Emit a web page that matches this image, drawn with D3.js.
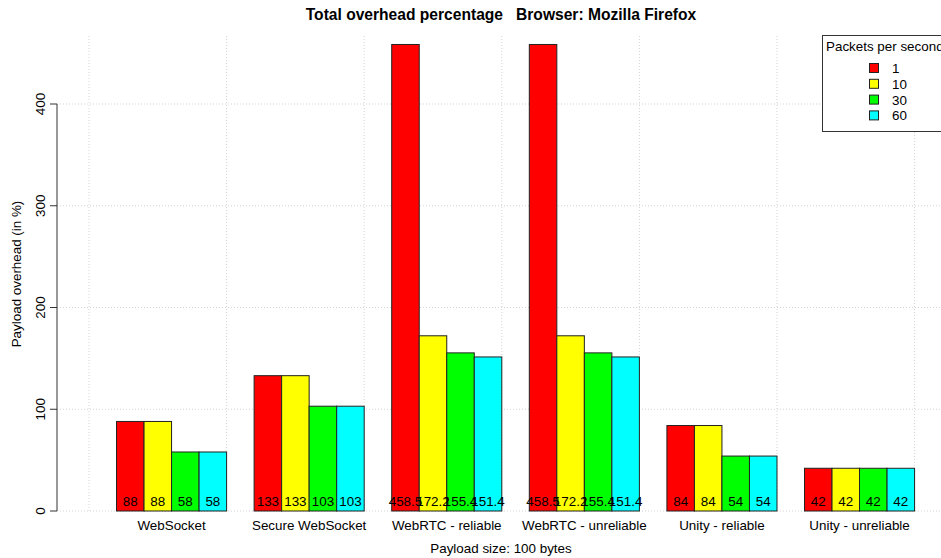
<!DOCTYPE html>
<meta charset="utf-8">
<style>
  body { margin: 0; background: #fff; }
  svg { display: block; font-family: "Liberation Sans", Arial, sans-serif; }
</style>
<script src="https://d3js.org/d3.v7.min.js"></script>
<svg id="vis"></svg>
<script>
  var width = 941, height = 558;

  // data
  var groups = ["WebSocket", "Secure WebSocket", "WebRTC - reliable", "WebRTC - unreliable", "Unity - reliable", "Unity - unreliable"];
  var rates = ["1", "10", "30", "60"];
  var rate1  = [88, 133, 458.5, 458.5, 84, 42];
  var rate10 = [88, 133, 172.2, 172.2, 84, 42];
  var rate30 = [58, 103, 155.4, 155.4, 54, 42];
  var rate60 = [58, 103, 151.4, 151.4, 54, 42];
  var yTicks = [0, 100, 200, 300, 400];
  var colors = ["#ff0000", "#ffff00", "#00ff00", "#00ffff"];

  var series = [rate1, rate10, rate30, rate60];
  var fs = "13.4px";

  var svg = d3.select("#vis").attr("width", width).attr("height", height);

  // scales
  var x0 = d3.scaleBand().domain(groups).range([89, 942.1])
    .paddingInner(0.2).paddingOuter(0.2);
  var x1 = d3.scaleBand().domain(rates).range([0, x0.bandwidth()]);
  var y = d3.scaleLinear().domain([0, 400]).range([511, 104]);

  var plotLeft = 57, plotRight = 945, plotTop = 36;

  // grid
  var gridX = groups.map(function(g) { return x0(g) - x0.step() * 0.2; });
  gridX.push(x0(groups[groups.length - 1]) + x0.bandwidth());

  svg.append("g").selectAll("line.gx")
    .data(gridX).enter().append("line")
    .attr("x1", d => d).attr("x2", d => d)
    .attr("y1", plotTop).attr("y2", y(0))
    .style("stroke", "#d3d3d3").style("stroke-dasharray", "1,2");

  svg.append("g").selectAll("line.gy")
    .data(yTicks).enter().append("line")
    .attr("x1", plotLeft).attr("x2", plotRight)
    .attr("y1", d => y(d)).attr("y2", d => y(d))
    .style("stroke", "#d3d3d3").style("stroke-dasharray", "1,2");

  // bars
  var rows = [];
  groups.forEach(function(g, gi) {
    rates.forEach(function(r, ri) {
      rows.push({ group: g, rate: r, value: series[ri][gi], color: colors[ri] });
    });
  });

  svg.append("g").selectAll("rect")
    .data(rows).enter().append("rect")
    .attr("x", d => x0(d.group) + x1(d.rate))
    .attr("y", d => y(d.value))
    .attr("width", x1.bandwidth())
    .attr("height", d => y(0) - y(d.value))
    .style("fill", d => d.color)
    .style("stroke", "#222")
    .style("stroke-width", 1);

  svg.append("g").selectAll("text")
    .data(rows).enter().append("text")
    .attr("x", d => x0(d.group) + x1(d.rate) + x1.bandwidth() / 2)
    .attr("y", 506)
    .attr("text-anchor", "middle")
    .style("font-size", fs)
    .text(d => d.value);

  // y axis
  var yAxis = svg.append("g");
  yAxis.append("line")
    .attr("x1", plotLeft).attr("x2", plotLeft)
    .attr("y1", y(0)).attr("y2", y(400))
    .style("stroke", "#333");
  yAxis.selectAll("line.tick")
    .data(yTicks).enter().append("line")
    .attr("x1", plotLeft - 7).attr("x2", plotLeft)
    .attr("y1", d => y(d)).attr("y2", d => y(d))
    .style("stroke", "#333");
  yAxis.selectAll("text")
    .data(yTicks).enter().append("text")
    .attr("transform", d => "translate(45," + y(d) + ") rotate(-90)")
    .attr("text-anchor", "middle")
    .style("font-size", fs)
    .text(d => d);

  // group labels
  svg.append("g").selectAll("text")
    .data(groups).enter().append("text")
    .attr("x", d => x0(d) + x0.bandwidth() / 2)
    .attr("y", 530)
    .attr("text-anchor", "middle")
    .style("font-size", fs)
    .text(d => d);

  // titles
  svg.append("text")
    .attr("x", 501).attr("y", 20)
    .attr("text-anchor", "middle")
    .attr("xml:space", "preserve")
    .style("font-size", "15.6px").style("font-weight", "bold")
    .text("Total overhead percentage   Browser: Mozilla Firefox");

  svg.append("text")
    .attr("x", 501).attr("y", 553)
    .attr("text-anchor", "middle")
    .style("font-size", fs)
    .text("Payload size: 100 bytes");

  svg.append("text")
    .attr("transform", "translate(21,274) rotate(-90)")
    .attr("text-anchor", "middle")
    .style("font-size", fs)
    .text("Payload overhead (in %)");

  // legend
  var legend = svg.append("g");
  legend.append("rect")
    .attr("x", 822.5).attr("y", 35.5).attr("width", 140).attr("height", 96)
    .style("fill", "#fff").style("stroke", "#333");
  legend.append("text")
    .attr("x", 826).attr("y", 51)
    .style("font-size", fs)
    .text("Packets per second");
  var items = legend.selectAll("g.item")
    .data(rates).enter().append("g");
  items.append("rect")
    .attr("x", 869.5).attr("y", (d, i) => 63.5 + i * 15.8)
    .attr("width", 9).attr("height", 9)
    .style("fill", (d, i) => colors[i]).style("stroke", "#222");
  items.append("text")
    .attr("x", 892).attr("y", (d, i) => 73 + i * 15.8)
    .style("font-size", fs)
    .text(d => d);
</script>
